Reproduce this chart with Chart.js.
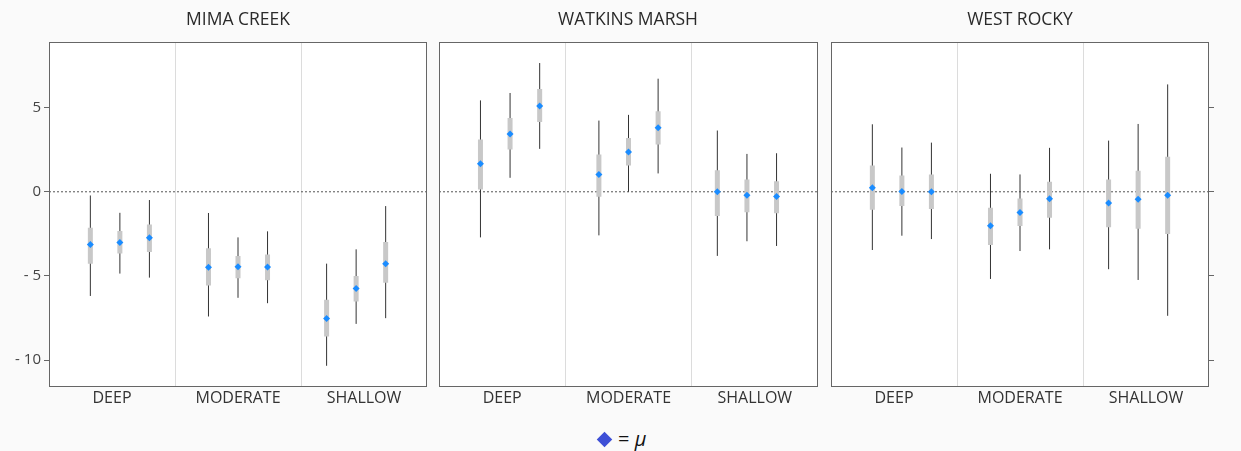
<!DOCTYPE html>
<html>
<head>
<meta charset="utf-8">
<script src="https://cdn.jsdelivr.net/npm/chart.js@4.4.1/dist/chart.umd.min.js"></script>
<style>
  body { margin: 0; background: #fafafa; font-family: "Open Sans", sans-serif; }
  #wrap { position: relative; width: 1241px; height: 451px; overflow: hidden; }
  canvas { position: absolute; top: 0; }
  .title { position: absolute; top: 6px; width: 300px; margin-left: -150px; text-align: center;
           font-size: 17.5px; color: #2a2a2a; }
  #legend { position: absolute; top: 425px; left: 599px; font-size: 20px; color: #111; }
  #legend .dia { display: inline-block; width: 11px; height: 11px; background: #3d4fd6;
                 transform: rotate(45deg); margin-right: 8px; vertical-align: 1px; }
</style>
</head>
<body>
<div id="wrap">
  <canvas id="c0" width="435" height="412" style="left:0px"></canvas>
  <canvas id="c1" width="391" height="412" style="left:435px"></canvas>
  <canvas id="c2" width="415" height="412" style="left:826px"></canvas>
  <div class="title" style="left:238px">MIMA CREEK</div>
  <div class="title" style="left:628px">WATKINS MARSH</div>
  <div class="title" style="left:1020px">WEST ROCKY</div>
  <div id="legend"><span class="dia"></span>= <i>μ</i></div>
</div>
<script>
// categories
const sites = ['MIMA CREEK', 'WATKINS MARSH', 'WEST ROCKY'];
const depths = ['DEEP', 'MODERATE', 'SHALLOW'];
// x position of each estimate (3 per depth, gap between depths)
const xPositions = [0, 1, 2, 4, 5, 6, 8, 9, 10];
const yTicks = [-10, -5, 0, 5];

// posterior mean per site (DEEP x3, MODERATE x3, SHALLOW x3)
const muValues = [
    [-3.14, -3.02, -2.73, -4.49, -4.45, -4.47, -7.53, -5.75, -4.27],
    [1.66, 3.44, 5.10, 1.03, 2.37, 3.81, 0.00, -0.20, -0.28],
    [0.24, 0.02, 0.00, -2.02, -1.23, -0.42, -0.67, -0.45, -0.20]
];
// inner interval (thick grey)
const innerLow = [
    [-4.27, -3.66, -3.58, -5.57, -5.14, -5.26, -8.60, -6.52, -5.40],
    [0.14, 2.51, 4.15, -0.30, 1.56, 2.81, -1.44, -1.21, -1.28],
    [-1.07, -0.85, -1.03, -3.16, -2.04, -1.54, -2.11, -2.19, -2.51]
];
const innerHigh = [
    [-2.13, -2.33, -1.94, -3.36, -3.81, -3.72, -6.42, -5.00, -2.98],
    [3.10, 4.39, 6.11, 2.21, 3.20, 4.78, 1.28, 0.73, 0.63],
    [1.56, 0.97, 1.03, -0.95, -0.40, 0.59, 0.73, 1.25, 2.08]
];
// outer interval (thin line)
const outerLow = [
    [-6.19, -4.86, -5.10, -7.41, -6.30, -6.62, -10.34, -7.85, -7.51],
    [-2.71, 0.83, 2.55, -2.59, 0.00, 1.09, -3.81, -2.94, -3.22],
    [-3.46, -2.61, -2.81, -5.18, -3.52, -3.42, -4.60, -5.24, -7.37]
];
const outerHigh = [
    [-0.22, -1.25, -0.49, -1.26, -2.71, -2.35, -4.27, -3.42, -0.85],
    [5.43, 5.87, 7.65, 4.23, 4.57, 6.72, 3.64, 2.25, 2.29],
    [4.01, 2.63, 2.92, 1.07, 1.03, 2.61, 3.04, 4.03, 6.38]
];

const xMin = -1.4, xMax = 11.4;
const yMin = -11.6, yMax = 8.9;

function segments(lo, hi) {
    const pts = [];
    xPositions.forEach((x, i) => {
        pts.push({ x: x, y: lo[i] }, { x: x, y: hi[i] }, { x: x, y: null });
    });
    return pts;
}

const frame = {
    id: 'frame',
    beforeDraw(chart) {
        const a = chart.chartArea, ctx = chart.ctx;
        ctx.save();
        ctx.fillStyle = '#ffffff';
        ctx.fillRect(a.left, a.top, a.right - a.left, a.bottom - a.top);
        ctx.restore();
    },
    afterDraw(chart) {
        const a = chart.chartArea, ctx = chart.ctx;
        ctx.save();
        ctx.strokeStyle = '#666';
        ctx.lineWidth = 1;
        ctx.strokeRect(a.left + 0.5, a.top + 0.5, a.right - a.left - 1, a.bottom - a.top - 1);
        ctx.restore();
    }
};

function makeChart(idx) {
    const range = xMax - xMin;
    const xTickVals = [1, 2, 3, 4, 5].map(k => xMin + range * k / 6);

    let yAxis;
    if (idx === 0) {
        yAxis = {
            position: 'left', min: yMin, max: yMax,
            afterBuildTicks: s => { s.ticks = yTicks.map(v => ({ value: v })); },
            afterFit: s => { s.width = 49; },
            grid: { drawOnChartArea: false, drawTicks: true, tickLength: 5, color: '#666' },
            border: { display: false },
            ticks: { color: '#444', font: { family: 'Open Sans', size: 15 }, padding: 3,
                     callback: v => v < 0 ? '- ' + Math.abs(v) : String(v) }
        };
    } else if (idx === 2) {
        yAxis = {
            position: 'right', min: yMin, max: yMax,
            afterBuildTicks: s => { s.ticks = yTicks.map(v => ({ value: v })); },
            afterFit: s => { s.width = 32; },
            grid: { drawOnChartArea: false, drawTicks: true, tickLength: 5, color: '#666' },
            border: { display: false },
            ticks: { display: false }
        };
    } else {
        yAxis = { display: false, min: yMin, max: yMax };
    }

    const pad = [{ left: 0, right: 8, top: 42 }, { left: 4, right: 8, top: 42 }, { left: 5, right: 0, top: 42 }][idx];

    return new Chart(document.getElementById('c' + idx), {
        type: 'scatter',
        data: {
            datasets: [
                {
                    data: [{ x: xMin, y: 0 }, { x: xMax, y: 0 }],
                    showLine: true, borderColor: '#555', borderWidth: 1, borderDash: [2, 2],
                    pointRadius: 0, order: 4
                },
                {
                    data: segments(outerLow[idx], outerHigh[idx]),
                    showLine: true, spanGaps: false, borderColor: '#333', borderWidth: 1,
                    pointRadius: 0, order: 3
                },
                {
                    data: segments(innerLow[idx], innerHigh[idx]),
                    showLine: true, spanGaps: false, borderColor: '#c8c8c8', borderWidth: 5,
                    borderCapStyle: 'butt', pointRadius: 0, order: 2
                },
                {
                    data: xPositions.map((x, i) => ({ x: x, y: muValues[idx][i] })),
                    pointStyle: 'rectRot', pointRadius: 3.5,
                    backgroundColor: '#1a8cff', borderColor: '#1a8cff', borderWidth: 0, order: 1
                }
            ]
        },
        options: {
            responsive: false,
            animation: false,
            devicePixelRatio: 1,
            layout: { padding: pad },
            plugins: { legend: { display: false }, tooltip: { enabled: false }, title: { display: false } },
            scales: {
                x: {
                    type: 'linear', min: xMin, max: xMax,
                    afterBuildTicks: s => { s.ticks = xTickVals.map(v => ({ value: v })); },
                    afterFit: s => { s.height = 25; },
                    grid: {
                        drawTicks: false,
                        color: ctx => (ctx.index % 2 === 1) ? '#dcdcdc' : 'rgba(0,0,0,0)'
                    },
                    border: { display: false },
                    ticks: {
                        autoSkip: false, maxRotation: 0, padding: 2, color: '#333',
                        font: { family: 'Open Sans', size: 16 },
                        callback: (v, i) => (i % 2 === 0) ? depths[i / 2] : ''
                    }
                },
                y: yAxis
            }
        },
        plugins: [frame]
    });
}

sites.forEach((s, i) => makeChart(i));
</script>
</body>
</html>
